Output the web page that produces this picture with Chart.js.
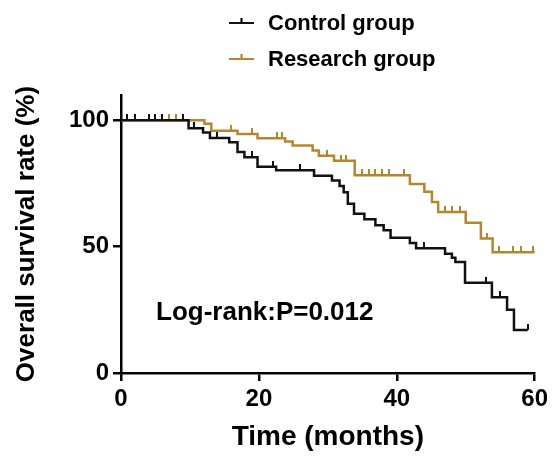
<!DOCTYPE html>
<html>
<head>
<meta charset="utf-8">
<title>Overall survival</title>
<script src="https://cdn.jsdelivr.net/npm/chart.js@4.4.1/dist/chart.umd.min.js"></script>
<style>
    html, body { margin: 0; padding: 0; background: #fff; }
    #wrap { width: 552px; height: 458px; position: relative; }
</style>
</head>
<body>
<div id="wrap"><canvas id="kmChart"></canvas></div>
<script>
// Kaplan-Meier steps (months, survival %)
const controlTimes = [0, 9.8, 11.9, 12.9, 15.7, 16.9, 17.9, 19.8, 22.5, 28.0, 30.6, 31.7, 32.3, 32.9, 33.8, 35.3, 36.9, 38.1, 39.1, 41.9, 42.8, 47.0, 48.0, 48.5, 49.9, 53.8, 56.0, 57.0, 59.0];
const controlSurv  = [100, 96.8, 95.2, 93.0, 91.3, 87.4, 85.4, 81.6, 80.2, 78.0, 76.2, 74.0, 71.5, 67.0, 63.0, 60.8, 58.5, 56.5, 53.5, 51.4, 49.4, 47.2, 45.6, 43.9, 35.7, 30.0, 25.0, 17.0, 17.0];
const controlCensorTimes = [0.9, 2.1, 4.0, 4.9, 5.9, 9.0, 10.6, 13.9, 19.0, 22.0, 26.0, 44.0, 53.0, 55.0, 59.0];
const controlCensorSurv  = [100, 100, 100, 100, 100, 100, 96.8, 93.0, 85.4, 81.6, 80.2, 49.4, 35.7, 30.0, 17.0];

const researchTimes = [0, 12.1, 13.1, 16.9, 19.8, 23.8, 24.9, 27.8, 28.7, 30.9, 33.9, 41.9, 44.0, 45.1, 46.0, 50.0, 52.2, 53.9, 60];
const researchSurv  = [100, 98.6, 95.9, 94.6, 92.9, 91.6, 90.0, 88.0, 86.0, 84.0, 78.2, 74.8, 71.7, 67.7, 63.7, 59.5, 53.2, 47.8, 47.8];
const researchCensorTimes = [7.0, 8.0, 15.9, 19.0, 22.6, 23.3, 29.9, 31.9, 32.7, 34.9, 35.9, 36.8, 37.8, 38.9, 41.1, 47.0, 48.0, 49.2, 53.1, 54.9, 56.9, 58.0, 59.8];
const researchCensorSurv  = [100, 100, 95.9, 94.6, 92.9, 92.9, 86.0, 84.0, 84.0, 78.2, 78.2, 78.2, 78.2, 78.2, 78.2, 63.7, 63.7, 63.7, 53.2, 47.8, 47.8, 47.8, 47.8];

const groupNames = ['Control group', 'Research group'];
const xTicks = [0, 20, 40, 60];
const yTicks = [0, 50, 100];
const pValueText = 'Log-rank:P=0.012';

const BLACK = '#111111';
const GOLD = '#b5862c';
const FONT = "'Liberation Sans', Arial, Helvetica, sans-serif";

function toPoints(xs, ys) {
    return xs.map((x, i) => ({ x: x, y: ys[i] }));
}

// small upward tick used as censor mark
function censorMark(color) {
    const c = document.createElement('canvas');
    c.width = 2;
    c.height = 12;
    const g = c.getContext('2d');
    g.fillStyle = color;
    g.fillRect(0, 0, 2, 6);
    return c;
}

// legend + log-rank text, drawn by hand so the two entries stack like the figure
const extras = {
    id: 'extras',
    afterDraw(chart) {
        const ctx = chart.ctx;
        const items = [[groupNames[0], BLACK, 23], [groupNames[1], GOLD, 59]];
        ctx.save();
        items.forEach(([label, color, y]) => {
            ctx.strokeStyle = color;
            ctx.lineWidth = 2.2;
            ctx.beginPath();
            ctx.moveTo(229, y);
            ctx.lineTo(254, y);
            ctx.moveTo(241.5, y);
            ctx.lineTo(241.5, y - 5);
            ctx.stroke();
            ctx.fillStyle = '#000';
            ctx.font = 'bold 22px ' + FONT;
            ctx.textBaseline = 'middle';
            ctx.textAlign = 'left';
            ctx.fillText(label, 268, y + 1);
        });
        ctx.font = 'bold 26px ' + FONT;
        ctx.textBaseline = 'alphabetic';
        ctx.fillText(pValueText, 156, 320);
        ctx.restore();
    }
};

new Chart(document.getElementById('kmChart'), {
    type: 'line',
    data: {
        datasets: [
            {
                label: groupNames[0],
                data: toPoints(controlTimes, controlSurv),
                borderColor: BLACK,
                borderWidth: 2.5,
                stepped: 'before',
                pointRadius: 0,
                fill: false
            },
            {
                label: groupNames[0] + ' censored',
                data: toPoints(controlCensorTimes, controlCensorSurv),
                showLine: false,
                pointStyle: censorMark(BLACK),
                pointRadius: 6
            },
            {
                label: groupNames[1],
                data: toPoints(researchTimes, researchSurv),
                borderColor: GOLD,
                borderWidth: 2.5,
                stepped: 'before',
                pointRadius: 0,
                fill: false
            },
            {
                label: groupNames[1] + ' censored',
                data: toPoints(researchCensorTimes, researchCensorSurv),
                showLine: false,
                pointStyle: censorMark(GOLD),
                pointRadius: 6
            }
        ]
    },
    options: {
        responsive: true,
        maintainAspectRatio: false,
        animation: false,
        events: [],
        clip: false,
        layout: { padding: { top: 95, right: 13, bottom: 2, left: 0 } },
        plugins: {
            legend: { display: false },
            tooltip: { enabled: false }
        },
        scales: {
            x: {
                type: 'linear',
                min: 0,
                max: 60,
                afterBuildTicks: (scale) => { scale.ticks = xTicks.map(v => ({ value: v })); },
                afterFit: (scale) => { scale.height = 83; },
                border: { color: '#000', width: 2.5 },
                grid: { drawOnChartArea: false, drawTicks: true, tickLength: 8, color: '#000', lineWidth: 2.5 },
                ticks: { color: '#000', padding: 4, maxRotation: 0, font: { family: FONT, size: 24, weight: 'bold' } },
                title: { display: true, text: 'Time (months)', color: '#000', padding: { top: 0, bottom: 2 }, font: { family: FONT, size: 28, weight: 'bold' } }
            },
            y: {
                type: 'linear',
                min: 0,
                max: 110,
                afterBuildTicks: (scale) => { scale.ticks = yTicks.map(v => ({ value: v })); },
                afterFit: (scale) => { scale.width = 121; },
                border: { color: '#000', width: 2.5 },
                grid: { drawOnChartArea: false, drawTicks: true, tickLength: 8, color: '#000', lineWidth: 2.5 },
                ticks: { color: '#000', padding: 4, font: { family: FONT, size: 24, weight: 'bold' } },
                title: { display: true, text: 'Overall survival rate (%)', color: '#000', padding: { top: 11, bottom: 0 }, font: { family: FONT, size: 26, weight: 'bold' } }
            }
        }
    },
    plugins: [extras]
});
</script>
</body>
</html>
